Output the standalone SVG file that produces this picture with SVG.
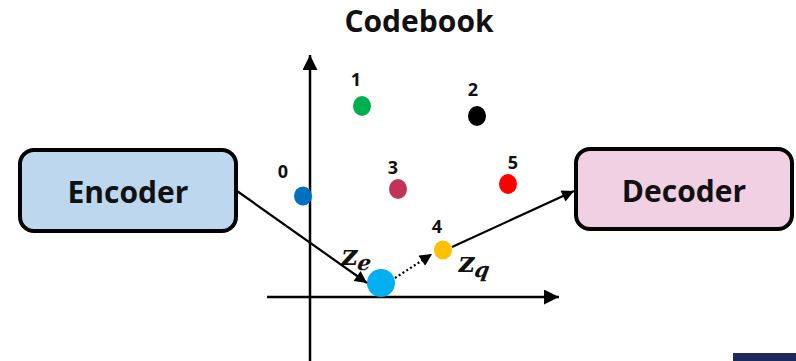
<svg xmlns="http://www.w3.org/2000/svg" width="796" height="361" viewBox="0 0 796 361">
  <defs>
    <marker id="tri" viewBox="0 0 10 10" refX="10" refY="5" markerWidth="6" markerHeight="5.5" markerUnits="strokeWidth" orient="auto">
      <path d="M0,0 L10,5 L0,10 z" fill="#000"/>
    </marker>
    <marker id="axisTri" viewBox="0 0 10 10" refX="10" refY="5" markerWidth="6" markerHeight="6" markerUnits="strokeWidth" orient="auto">
      <path d="M0,0 L10,5 L0,10 z" fill="#000"/>
    </marker>
  </defs>
  <style>
    .box { stroke: #000; stroke-width: 4; }
    .boxlabel { font-family: "Open Sans", "Noto Sans", "Liberation Sans", sans-serif; font-weight: bold; font-size: 30px; fill: #111; text-anchor: middle; }
    .idx { font-family: "Open Sans", "Noto Sans", "Liberation Sans", sans-serif; font-weight: bold; font-size: 18px; fill: #111; text-anchor: middle; }
    .title { font-family: "Open Sans", "Noto Sans", "Liberation Sans", sans-serif; font-weight: bold; font-size: 30px; fill: #111; text-anchor: middle; }
    .math { font-family: "DejaVu Serif", "Liberation Serif", serif; font-weight: bold; fill: #111; }
    .sub { font-style: italic; }
    .axis { stroke: #000; stroke-width: 2.5; fill: none; }
    .conn { stroke: #000; stroke-width: 2.2; fill: none; }
  </style>

  <rect width="796" height="361" fill="#fff"/>

  <text class="title" x="419" y="32">Codebook</text>

  <!-- embedding space axes -->
  <g id="axes">
    <line class="axis" x1="310" y1="361" x2="310" y2="55" marker-end="url(#axisTri)"/>
    <line class="axis" x1="267" y1="297" x2="559" y2="297" marker-end="url(#axisTri)"/>
  </g>

  <g id="encoder">
    <rect class="box" x="20" y="150" width="216" height="81" rx="14" fill="#BDD7EE"/>
    <text class="boxlabel" x="128" y="203">Encoder</text>
  </g>

  <g id="decoder">
    <rect class="box" x="576" y="149" width="216" height="80" rx="14" fill="#F2D0E4"/>
    <text class="boxlabel" x="684" y="202">Decoder</text>
  </g>

  <!-- codebook entries -->
  <g id="code0"><ellipse cx="303" cy="196" rx="9" ry="9.5" fill="#0070C0"/><text class="idx" x="283" y="178">0</text></g>
  <g id="code1"><ellipse cx="362" cy="106" rx="9" ry="10" fill="#00B050"/><text class="idx" x="356" y="86">1</text></g>
  <g id="code2"><ellipse cx="477" cy="116" rx="9" ry="10" fill="#000"/><text class="idx" x="473" y="96">2</text></g>
  <g id="code3"><ellipse cx="398" cy="189" rx="9" ry="10" fill="#C0345A"/><text class="idx" x="393" y="174">3</text></g>
  <g id="code4"><ellipse cx="443" cy="250" rx="9" ry="9.5" fill="#FFC000"/><text class="idx" x="437" y="233">4</text></g>
  <g id="code5"><ellipse cx="508" cy="184" rx="9" ry="10" fill="#FF0000"/><text class="idx" x="513" y="169">5</text></g>

  <!-- encoder output z_e -->
  <g id="ze">
    <circle cx="381" cy="283" r="14" fill="#00B0F0"/>
    <text class="math" transform="translate(340,265) skewX(-10)" font-size="29">z<tspan class="sub" font-size="21" dx="1" dy="5">e</tspan></text>
  </g>

  <g id="zq-label">
    <text class="math" transform="translate(457,272) skewX(-10)" font-size="29">z<tspan class="sub" font-size="21" dx="1" dy="5">q</tspan></text>
  </g>

  <g id="connectors">
    <line class="conn" x1="237" y1="191" x2="367" y2="283" marker-end="url(#tri)"/>
    <line class="conn" x1="395" y1="278" x2="432" y2="254" stroke-dasharray="2 2.5" marker-end="url(#tri)"/>
    <line class="conn" x1="452" y1="247" x2="574" y2="191" marker-end="url(#tri)"/>
  </g>

  <rect x="733" y="353" width="63" height="8" fill="#1F2A5C"/>
</svg>
